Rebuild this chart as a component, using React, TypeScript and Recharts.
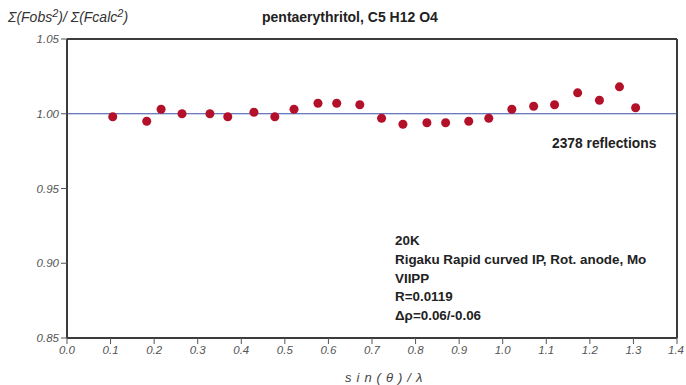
import {
  ReferenceLine,
  Scatter,
  ScatterChart,
  XAxis,
  YAxis,
  ZAxis,
} from "recharts";

const SIN_THETA = [
  0.105, 0.183, 0.216, 0.264, 0.328, 0.369, 0.429, 0.477, 0.521, 0.576, 0.619,
  0.672, 0.722, 0.771, 0.826, 0.869, 0.922, 0.968, 1.021, 1.071, 1.119, 1.172,
  1.222, 1.268, 1.305,
];

const RATIO = [
  0.998, 0.995, 1.003, 1.0, 1.0, 0.998, 1.001, 0.998, 1.003, 1.007, 1.007,
  1.006, 0.997, 0.993, 0.994, 0.994, 0.995, 0.997, 1.003, 1.005, 1.006, 1.014,
  1.009, 1.018, 1.004,
];

const X_TICKS = [0, 0.1, 0.2, 0.3, 0.4, 0.5, 0.6, 0.7, 0.8, 0.9, 1.0, 1.1, 1.2, 1.3, 1.4];
const Y_TICKS = [0.85, 0.9, 0.95, 1.0, 1.05];

const NOTES = [
  "20K",
  "Rigaku Rapid curved IP, Rot. anode, Mo",
  "VIIPP",
  "R=0.0119",
  "\u0394\u03c1=0.06/-0.06",
];

const points = SIN_THETA.map((x, i) => ({ x, y: RATIO[i] }));

const AXIS = "#3c3c3c";
const FONT = "Liberation Sans, Arial, sans-serif";

function XTick({ x, y, payload }: any) {
  return (
    <text x={x} y={y} dy="0.71em" textAnchor="middle" fontSize={11.5}
      fontStyle="italic" fontFamily={FONT} fill="#555">
      {Number(payload.value).toFixed(1)}
    </text>
  );
}

function YTick({ x, y, payload }: any) {
  return (
    <text x={x} y={y} dy="0.355em" textAnchor="end" fontSize={11.5}
      fontStyle="italic" fontFamily={FONT} fill="#555">
      {Number(payload.value).toFixed(2)}
    </text>
  );
}

export default function App() {
  return (
    <div style={{ position: "absolute", left: 0, top: 0 }}>
      <ScatterChart
        width={686}
        height={385}
        margin={{ top: 39, right: 9, bottom: 0, left: 0 }}
      >
        <XAxis
          type="number"
          dataKey="x"
          domain={[0, 1.4]}
          ticks={X_TICKS}
          tick={<XTick />}
          axisLine={{ stroke: AXIS, strokeWidth: 2 }}
          tickLine={{ stroke: "#555" }}
          height={47}
        />
        <YAxis
          type="number"
          dataKey="y"
          domain={[0.85, 1.05]}
          ticks={Y_TICKS}
          tick={<YTick />}
          axisLine={{ stroke: AXIS, strokeWidth: 2 }}
          tickLine={{ stroke: "#555" }}
          width={67}
        />
        <ZAxis range={[48, 48]} />
        <ReferenceLine y={1.05} stroke={AXIS} strokeWidth={2} />
        <ReferenceLine x={1.4} stroke={AXIS} strokeWidth={2} />
        <ReferenceLine y={1.0} stroke="#3a4fa8" strokeWidth={1.2} />
        <Scatter data={points} fill="#b3112a" isAnimationActive={false} />
      </ScatterChart>

      <svg
        width={686}
        height={385}
        style={{ position: "absolute", left: 0, top: 0, pointerEvents: "none" }}
        fontFamily={FONT}
      >
        <text x={8} y={22} fontSize={14} fontStyle="italic" fill="#333">
          Σ(Fobs<tspan fontSize={11} dy={-5}>2</tspan>
          <tspan dy={5}>)/ Σ(Fcalc</tspan>
          <tspan fontSize={11} dy={-5}>2</tspan>
          <tspan dy={5}>)</tspan>
        </text>
        <text x={262} y={22} fontSize={14} fontWeight="bold" fill="#222">
          pentaerythritol, C5 H12 O4
        </text>
        <text x={552} y={148} fontSize={13.8} fontWeight="bold" fill="#222">
          2378 reflections
        </text>
        {NOTES.map((n, i) => (
          <text key={n} x={395} y={245 + i * 18.8} fontSize={13.4} fontWeight="bold" fill="#222">
            {n}
          </text>
        ))}
        <text x={345} y={382} fontSize={13} fontStyle="italic" letterSpacing={5} fill="#444">
          sin(θ)/λ
        </text>
      </svg>
    </div>
  );
}
